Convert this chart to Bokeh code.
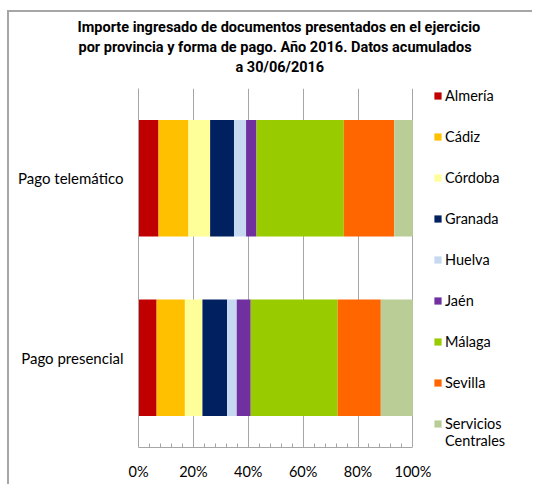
from bokeh.plotting import figure
from bokeh.models import (ColumnDataSource, Legend, LegendItem, FixedTicker,
                          PrintfTickFormatter, FactorRange, Range1d, Title)
from bokeh.embed import file_html
from bokeh.resources import INLINE

# ---- data ----
provinces = ["Almería", "Cádiz", "Córdoba", "Granada", "Huelva", "Jaén",
             "Málaga", "Sevilla", "Servicios Centrales"]
legend_labels = ["Almería", "Cádiz", "Córdoba", "Granada", "Huelva", "Jaén",
                 "Málaga", "Sevilla", "Servicios"]
legend_continuation = "Centrales"
colors = ["#C00000", "#FFC000", "#FFFF99", "#002060", "#C6D9F1", "#7030A0",
          "#99CC00", "#FF6600", "#BACD97"]
categories = ["Pago presencial", "Pago telemático"]
pago_telematico = [7.3, 10.9, 7.9, 8.7, 4.4, 3.8, 31.8, 18.4, 6.8]
pago_presencial = [6.6, 10.3, 6.4, 9.0, 3.5, 5.1, 31.7, 15.7, 11.7]
x_ticks = [0, 20, 40, 60, 80, 100]
x_minor = [v for v in range(0, 101, 4) if v % 20 != 0]
title_lines = ["Importe ingresado de documentos presentados en el ejercicio",
               "por provincia y forma de pago. Año 2016. Datos acumulados",
               "a 30/06/2016"]
title_offsets = [-61, -60, 97]   # left shift of each line so all centre near x=280

data = {"forma": categories}
for i, prov in enumerate(provinces):
    data[prov] = [pago_presencial[i], pago_telematico[i]]
source = ColumnDataSource(data)

FONT = "Lato"
GRAY = "#A6A6A6"

# frame spans 0..100 % over 274.4 px; extra room on the right holds the legend
FRAME_W = 525 - 129
x_end = 100.0 * FRAME_W / 274.4

p = figure(width=525, height=474, output_backend="svg", toolbar_location=None,
           y_range=FactorRange(factors=categories, range_padding=0),
           x_range=Range1d(0, x_end), title=None,
           min_border_left=129, min_border_right=0,
           min_border_top=76, min_border_bottom=39)
p.styles = {"margin-left": "7px", "margin-top": "10px",
            "border-left": "2px solid #A6A6A6", "border-top": "2px solid #A6A6A6"}
p.outline_line_color = None
p.background_fill_color = "white"
p.border_fill_color = "white"

renderers = p.hbar_stack(provinces, y="forma", height=0.65, color=colors,
                         line_color=None, source=source)

# spacer between title block and plot frame
p.add_layout(Title(text=" ", text_font_size="1px", standoff=9), "above")
for line, off in reversed(list(zip(title_lines, title_offsets))):
    t = Title(text=line, align="left", text_font="Roboto",
              text_font_style="bold", text_font_size="14.5px", text_color="black",
              offset=off, standoff=1)
    p.add_layout(t, "above")

# x axis
xa = p.xaxis[0]
xa.bounds = (0, 100)
xa.ticker = FixedTicker(ticks=x_ticks, minor_ticks=x_minor)
xa.formatter = PrintfTickFormatter(format="%d%%")
xa.axis_line_color = GRAY
xa.major_tick_in = 0
xa.major_tick_out = 0
xa.minor_tick_in = 4
xa.minor_tick_out = 0
xa.minor_tick_line_color = GRAY
xa.major_label_text_font = FONT
xa.major_label_text_font_size = "14.5px"
xa.major_label_text_color = "black"
xa.major_label_standoff = 15

ya = p.yaxis[0]
ya.axis_line_color = GRAY
ya.major_tick_in = 0
ya.major_tick_out = 0
ya.minor_tick_line_color = None
ya.major_label_text_font = FONT
ya.major_label_text_font_size = "15px"
ya.major_label_text_color = "black"
ya.major_label_standoff = 15

p.xgrid.grid_line_color = GRAY
p.ygrid.visible = False

common = dict(orientation="vertical", padding=0, margin=0,
              border_line_color=None, background_fill_alpha=0,
              label_text_font=FONT, label_text_font_size="14.5px",
              label_text_color="black")

items = [LegendItem(label=lab, renderers=[r]) for lab, r in zip(legend_labels, renderers)]
legend = Legend(items=items, location=(295, 14), glyph_width=9, glyph_height=9,
                label_standoff=3, spacing=21, label_height=20, **common)
p.add_layout(legend, "center")

# second line of the last legend label ("Servicios / Centrales")
legend2 = Legend(items=[LegendItem(label=legend_continuation, renderers=[renderers[-1]])],
                 location=(295, -2), glyph_width=1, glyph_height=1,
                 label_standoff=11, spacing=0, label_height=14, **common)
p.add_layout(legend2, "center")

open("out.html", "w").write(file_html(p, INLINE))
